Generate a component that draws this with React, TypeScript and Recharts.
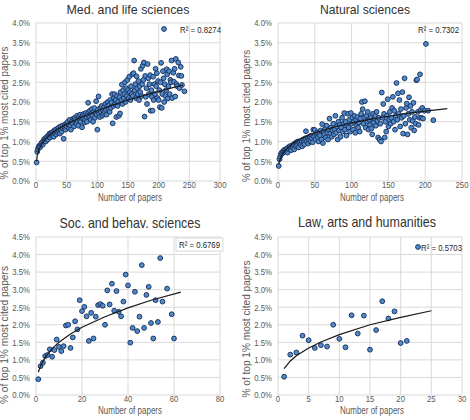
import { ScatterChart, Scatter, XAxis, YAxis, CartesianGrid } from 'recharts';

const FONT = "'Liberation Sans', Arial, sans-serif";
const TEXT = '#595959';
const GRID = '#d9d9d9';
const DOT_FILL = '#4f8acb';
const DOT_EDGE = '#1c3461';
const NARROW = 0.82;

// [number of papers, % of top 1% most cited papers]
const medPoints: [number, number][] = [
  [1, 0.47], [2, 0.74], [3, 0.8], [4, 0.85], [5, 0.88], [6, 0.9], [7, 0.86], [8, 0.93], [9, 0.95], [10, 0.98],
  [11, 0.92], [12, 1.0], [13, 1.05], [14, 1.02], [15, 1.08], [16, 1.0], [17, 1.1], [18, 1.12], [19, 1.05], [20, 1.15],
  [21, 1.12], [22, 1.2], [23, 1.1], [24, 1.18], [25, 1.22], [26, 1.15], [27, 1.2], [28, 1.25], [29, 1.12], [30, 1.28],
  [31, 1.2], [32, 1.3], [33, 1.18], [34, 1.25], [35, 1.32], [36, 1.22], [37, 1.35], [38, 1.28], [39, 1.2], [40, 1.38],
  [41, 1.3], [42, 1.25], [43, 1.4], [44, 1.33], [45, 1.07], [46, 1.36], [47, 1.42], [48, 1.3], [49, 1.45], [50, 1.38],
  [51, 1.45], [52, 1.5], [53, 1.35], [54, 1.42], [55, 1.55], [56, 1.4], [57, 1.3], [58, 1.48], [59, 1.52], [60, 1.45],
  [61, 1.58], [62, 1.38], [63, 1.6], [64, 1.5], [65, 1.55], [66, 1.45], [67, 1.65], [68, 1.52], [69, 1.4], [70, 1.62],
  [71, 1.55], [72, 1.68], [73, 1.5], [74, 1.6], [75, 1.36], [76, 1.65], [77, 1.58], [78, 1.7], [79, 1.48], [80, 1.55],
  [81, 1.72], [82, 1.62], [83, 1.5], [84, 1.68], [85, 1.98], [86, 1.75], [87, 1.6], [88, 1.78], [89, 1.55], [90, 1.7],
  [91, 1.82], [92, 1.65], [93, 1.5], [94, 1.75], [95, 1.85], [96, 1.6], [97, 1.72], [98, 2.02], [99, 1.68], [100, 1.3],
  [101, 1.8], [102, 2.14], [103, 1.7], [104, 1.62], [105, 1.85], [106, 1.75], [107, 1.9], [108, 1.65], [109, 1.8], [110, 1.7],
  [111, 1.88], [112, 1.75], [113, 1.95], [114, 1.8], [115, 1.68], [116, 1.9], [117, 2.0], [118, 1.82], [119, 1.92], [120, 1.75],
  [121, 2.05], [122, 1.85], [123, 1.98], [124, 2.2], [125, 1.46], [126, 1.9], [127, 2.1], [128, 2.2], [129, 1.95], [130, 2.05],
  [131, 1.62], [132, 2.15], [133, 1.9], [134, 2.0], [135, 1.65], [136, 2.12], [137, 1.71], [138, 2.25], [139, 2.05], [140, 2.44],
  [141, 1.95], [142, 2.3], [143, 2.1], [144, 2.2], [145, 2.5], [146, 2.0], [147, 2.35], [148, 2.15], [149, 2.56], [150, 2.3],
  [151, 2.1], [152, 2.64], [153, 2.25], [154, 2.05], [155, 2.4], [156, 2.2], [157, 2.7], [158, 2.15], [159, 2.73], [160, 3.05],
  [161, 2.3], [162, 2.45], [163, 2.1], [164, 2.65], [165, 2.35], [166, 2.2], [167, 2.53], [168, 2.05], [169, 2.4], [170, 2.25],
  [171, 2.84], [172, 2.15], [173, 2.45], [174, 2.92], [175, 2.56], [176, 3.0], [177, 1.63], [178, 2.66], [179, 2.13], [180, 2.35],
  [181, 1.95], [182, 2.96], [183, 2.6], [184, 2.2], [185, 2.45], [186, 2.68], [187, 1.78], [188, 2.3], [189, 2.13], [190, 1.78],
  [191, 2.64], [192, 2.05], [193, 2.45], [194, 2.2], [195, 2.84], [196, 2.4], [197, 2.73], [198, 2.1], [199, 2.53], [200, 2.05],
  [201, 2.3], [202, 1.87], [203, 2.5], [204, 2.99], [205, 1.85], [206, 2.2], [207, 2.78], [208, 2.6], [209, 2.0], [210, 2.45],
  [211, 2.15], [212, 2.3], [213, 2.83], [214, 2.7], [215, 2.09], [216, 2.4], [217, 2.78], [218, 2.2], [219, 2.56], [220, 2.5],
  [221, 3.05], [222, 2.1], [224, 2.74], [225, 2.51], [226, 2.84], [227, 2.14], [228, 3.09], [229, 2.45], [230, 2.4], [232, 3.0],
  [233, 2.67], [234, 2.35], [236, 2.89], [237, 2.66], [238, 2.43], [242, 2.27],
];

const natPoints: [number, number][] = [
  [1, 0.38], [2, 0.55], [3, 0.62], [4, 0.68], [5, 0.72], [6, 0.7], [7, 0.75], [8, 0.78], [9, 0.74], [10, 0.8],
  [11, 0.77], [12, 0.82], [13, 0.72], [14, 0.85], [15, 0.8], [16, 0.88], [17, 0.83], [18, 0.78], [19, 0.9], [20, 0.86],
  [21, 0.92], [22, 0.8], [23, 0.95], [24, 0.88], [25, 0.98], [26, 0.9], [27, 1.0], [28, 0.85], [29, 0.95], [30, 1.0],
  [31, 0.92], [32, 1.02], [33, 0.88], [34, 1.05], [35, 0.98], [36, 0.93], [37, 1.08], [38, 1.26], [39, 1.0], [40, 1.1],
  [41, 0.95], [42, 1.05], [43, 1.12], [44, 1.0], [45, 1.15], [46, 1.08], [47, 0.98], [48, 1.3], [49, 1.12], [50, 1.29],
  [51, 1.05], [52, 1.18], [53, 1.22], [54, 1.1], [55, 1.0], [56, 1.2], [57, 1.15], [58, 1.28], [59, 1.05], [60, 1.44],
  [61, 0.96], [62, 1.25], [63, 1.18], [64, 1.32], [65, 1.1], [66, 1.4], [67, 1.22], [68, 1.05], [69, 1.3], [70, 1.58],
  [71, 1.2], [72, 1.35], [73, 1.12], [74, 1.28], [75, 1.45], [76, 1.18], [77, 1.3], [78, 1.65], [79, 1.22], [80, 1.38],
  [81, 1.05], [82, 1.5], [83, 1.28], [84, 1.42], [85, 1.12], [86, 1.35], [87, 1.6], [88, 1.25], [89, 1.45], [90, 1.72],
  [91, 1.3], [92, 1.5], [93, 1.15], [94, 1.4], [95, 1.7], [96, 1.35], [97, 1.55], [98, 1.25], [99, 1.72], [100, 1.45],
  [101, 1.6], [102, 1.3], [103, 1.5], [104, 1.65], [105, 1.22], [106, 1.55], [107, 1.4], [108, 1.62], [109, 1.35], [110, 1.48],
  [111, 1.25], [112, 1.58], [113, 1.7], [114, 2.0], [115, 1.82], [116, 1.45], [117, 1.6], [118, 2.02], [119, 1.35], [120, 1.65],
  [121, 1.5], [122, 1.75], [123, 1.3], [124, 1.55], [125, 1.42], [126, 1.62], [127, 1.33], [128, 1.18], [129, 1.7], [130, 1.48],
  [131, 1.58], [132, 1.65], [133, 1.4], [134, 1.75], [135, 1.52], [136, 1.1], [137, 1.6], [138, 1.05], [139, 1.45], [140, 1.0],
  [141, 2.24], [142, 1.6], [143, 1.95], [144, 1.7], [145, 1.1], [146, 1.5], [147, 1.25], [148, 1.65], [149, 2.07], [150, 1.38],
  [151, 1.55], [152, 1.75], [153, 1.45], [154, 1.6], [155, 1.85], [156, 2.13], [157, 1.5], [158, 1.78], [159, 1.3], [160, 1.65],
  [161, 2.48], [162, 1.55], [163, 2.22], [164, 1.7], [165, 2.05], [166, 1.38], [167, 1.82], [168, 1.6], [169, 2.25], [170, 1.2],
  [171, 1.65], [172, 2.6], [173, 1.45], [174, 1.85], [175, 1.96], [176, 1.18], [177, 1.7], [178, 2.12], [179, 1.55], [180, 1.9],
  [181, 1.35], [182, 1.75], [183, 1.52], [184, 1.98], [185, 1.28], [186, 1.62], [187, 1.45], [188, 2.55], [189, 2.57], [190, 1.75],
  [191, 1.42], [192, 1.6], [193, 2.7], [194, 1.8], [195, 1.6], [196, 1.85], [197, 1.58], [199, 1.78], [201, 3.47], [204, 1.78],
  [211, 1.54],
];

const socPoints: [number, number][] = [
  [1, 0.45], [2, 0.82], [3, 0.92], [4, 1.11], [5, 1.14], [6, 1.3], [7, 1.09], [8, 1.28], [9, 1.58], [10, 1.37],
  [11, 1.25], [12, 1.39], [13, 1.98], [14, 2.0], [15, 1.34], [16, 1.64], [17, 2.1], [18, 1.87], [19, 2.7], [20, 2.39],
  [21, 2.51], [22, 2.24], [23, 1.54], [24, 2.34], [25, 1.61], [26, 2.23], [27, 2.56], [28, 2.59], [29, 2.54], [30, 2.0],
  [31, 2.98], [32, 2.58], [33, 3.17], [34, 2.4], [35, 2.96], [36, 2.37], [37, 2.24], [38, 2.66], [39, 3.43], [40, 3.12],
  [41, 1.49], [42, 1.91], [43, 2.94], [44, 1.82], [45, 2.23], [46, 3.7], [47, 1.91], [48, 2.85], [49, 3.08], [50, 2.05],
  [51, 1.61], [52, 2.7], [53, 2.08], [54, 3.9], [55, 2.66], [57, 3.03], [59, 2.3], [60, 1.61],
];

const lawPoints: [number, number][] = [
  [1, 0.52], [2, 1.15], [3, 1.21], [4, 1.69], [5, 1.56], [6, 1.34], [7, 1.42], [8, 1.38], [9, 2.0], [10, 1.6],
  [11, 1.36], [12, 2.27], [13, 1.75], [14, 2.26], [15, 1.29], [16, 1.85], [17, 2.67], [18, 2.18], [19, 2.38], [20, 1.48],
  [21, 1.54],
];

// trend lines
const medTrend: [number, number][] = [
  [1, 0.5], [2, 0.65], [5, 0.8], [10, 0.95], [20, 1.13], [30, 1.26], [50, 1.44], [75, 1.62], [100, 1.78],
  [125, 1.92], [150, 2.05], [175, 2.16], [200, 2.27], [220, 2.35], [240, 2.43],
];
const natTrend: [number, number][] = [
  [1, 0.42], [2, 0.5], [5, 0.65], [10, 0.78], [20, 0.95], [30, 1.06], [50, 1.22], [75, 1.36], [100, 1.47],
  [125, 1.56], [150, 1.64], [175, 1.71], [200, 1.77], [230, 1.83],
];
const socTrend: [number, number][] = [
  [1, 0.65], [2, 0.83], [4, 1.07], [7, 1.32], [10, 1.5], [15, 1.74], [20, 1.93], [30, 2.23], [40, 2.48], [50, 2.7], [63, 2.93],
];
const lawTrend: [number, number][] = [
  [1, 0.75], [2, 0.97], [3, 1.12], [5, 1.34], [7, 1.51], [10, 1.72], [15, 2.0], [20, 2.21], [25, 2.4],
];

const medXTicks = [0, 50, 100, 150, 200, 250, 300];
const natXTicks = [0, 50, 100, 150, 200, 250];
const socXTicks = [0, 20, 40, 60, 80];
const lawXTicks = [0, 5, 10, 15, 20, 25, 30];
const yTicks40 = [0, 0.5, 1, 1.5, 2, 2.5, 3, 3.5, 4];
const yTicks45 = [0, 0.5, 1, 1.5, 2, 2.5, 3, 3.5, 4, 4.5];

const toRows = (pts: [number, number][]) => pts.map(([x, y]) => ({ x, y }));
const pct = (v: number) => `${v.toFixed(1)}%`;

const Dot = (p: any) => (
  <circle cx={p.cx} cy={p.cy} r={2.4} fill={DOT_FILL} stroke={DOT_EDGE} strokeWidth={1} />
);
const NoDot = () => <g />;

// Narrow text, like the condensed face of the original
function NText({ x, y, anchor = 'start', size, fill = TEXT, children }: any) {
  return (
    <text
      transform={`translate(${x}, ${y}) scale(${NARROW}, 1)`}
      textAnchor={anchor}
      fontSize={size}
      fontFamily={FONT}
      fill={fill}
    >
      {children}
    </text>
  );
}

const XTick = (props: any) => (
  <NText x={props.x} y={props.y + 7} anchor="middle" size={9.5}>
    {props.payload.value}
  </NText>
);
const YTick = (props: any) => (
  <NText x={30} y={props.y + 3.3} anchor="end" size={9.5}>
    {pct(props.payload.value)}
  </NText>
);

interface PanelProps {
  left: number;
  top: number;
  width: number;
  plotTop: number;
  axisH: number;
  rightM: number;
  title: string;
  titleSize: number;
  titleX: number;
  titleY: number;
  titleW: number;
  xLabelY: number;
  yLabelMid: number;
  yLabelLen: number;
  points: [number, number][];
  trend: [number, number][];
  xTicks: number[];
  yTicks: number[];
  r2: string;
  legend: { dot?: [number, number]; textX: number; textY: number; box?: boolean };
}

function Panel(p: PanelProps) {
  const H = 210;
  const xMax = p.xTicks[p.xTicks.length - 1];
  const yMax = p.yTicks[p.yTicks.length - 1];
  return (
    <div style={{ position: 'absolute', left: p.left, top: p.top, width: p.width, height: H }}>
      <ScatterChart
        width={p.width}
        height={H}
        margin={{ top: p.plotTop, right: p.rightM, bottom: 0, left: 0 }}
      >
        <CartesianGrid stroke={GRID} strokeWidth={1} />
        <XAxis
          type="number"
          dataKey="x"
          domain={[0, xMax]}
          ticks={p.xTicks}
          interval={0}
          height={p.axisH}
          axisLine={false}
          tickLine={false}
          tickSize={0}
          tickMargin={0}
          tick={XTick}
        />
        <YAxis
          type="number"
          dataKey="y"
          domain={[0, yMax]}
          ticks={p.yTicks}
          interval={0}
          width={36}
          axisLine={false}
          tickLine={false}
          tick={YTick}
        />
        <Scatter data={toRows(p.points)} shape={Dot} isAnimationActive={false} />
        <Scatter
          data={toRows(p.trend)}
          shape={NoDot}
          line={{ stroke: '#1a1a1a', strokeWidth: 1.2 }}
          lineType="joint"
          isAnimationActive={false}
        />
      </ScatterChart>
      <svg
        width={p.width}
        height={H}
        style={{ position: 'absolute', left: 0, top: 0, pointerEvents: 'none' }}
        fontFamily={FONT}
      >
        <text
          x={p.titleX - p.titleW / 2}
          y={p.titleY}
          fontSize={p.titleSize}
          fill="#333"
          textLength={p.titleW}
          lengthAdjust="spacingAndGlyphs"
        >
          {p.title}
        </text>
        <text
          x={98}
          y={p.xLabelY}
          fontSize={10}
          fill={TEXT}
          textLength={64}
          lengthAdjust="spacingAndGlyphs"
        >
          Number of papers
        </text>
        <text
          transform={`translate(8, ${p.yLabelMid + p.yLabelLen / 2}) rotate(-90)`}
          fontSize={10}
          fill={TEXT}
          textLength={p.yLabelLen}
          lengthAdjust="spacingAndGlyphs"
        >
          % of top 1% most cited papers
        </text>
        {p.legend.box && (
          <rect
            x={p.legend.textX - 3}
            y={p.legend.textY - 10}
            width={47}
            height={13}
            fill="#fff"
            stroke={GRID}
          />
        )}
        {p.legend.dot && (
          <circle
            cx={p.legend.dot[0]}
            cy={p.legend.dot[1]}
            r={2.4}
            fill={DOT_FILL}
            stroke={DOT_EDGE}
            strokeWidth={1}
          />
        )}
        <text
          x={p.legend.textX}
          y={p.legend.textY}
          fontSize={9}
          fill="#262626"
          textLength={41}
          lengthAdjust="spacingAndGlyphs"
        >
          {p.r2}
        </text>
      </svg>
    </div>
  );
}

export default function App() {
  return (
    <div
      style={{
        position: 'absolute',
        left: 0,
        top: 0,
        width: 470,
        height: 420,
        background: '#fff',
        overflow: 'hidden',
      }}
    >
      <Panel
        left={0}
        top={0}
        width={235}
        plotTop={23}
        axisH={29}
        rightM={15}
        title="Med. and life sciences"
        titleSize={13.5}
        titleX={128}
        titleY={14}
        titleW={123}
        xLabelY={201}
        yLabelMid={113}
        yLabelLen={133}
        points={medPoints}
        trend={medTrend}
        xTicks={medXTicks}
        yTicks={yTicks40}
        r2="R² = 0.8274"
        legend={{ dot: [164, 29], textX: 180, textY: 33 }}
      />
      <Panel
        left={242}
        top={0}
        width={228}
        plotTop={23}
        axisH={29}
        rightM={8}
        title="Natural sciences"
        titleSize={13.5}
        titleX={123}
        titleY={14}
        titleW={90}
        xLabelY={201}
        yLabelMid={116}
        yLabelLen={132}
        points={natPoints}
        trend={natTrend}
        xTicks={natXTicks}
        yTicks={yTicks40}
        r2="R² = 0.7302"
        legend={{ textX: 176, textY: 33 }}
      />
      <Panel
        left={0}
        top={210}
        width={235}
        plotTop={27}
        axisH={25}
        rightM={15}
        title="Soc. and behav. sciences"
        titleSize={15}
        titleX={130}
        titleY={18}
        titleW={141}
        xLabelY={204}
        yLabelMid={125}
        yLabelLen={138}
        points={socPoints}
        trend={socTrend}
        xTicks={socXTicks}
        yTicks={yTicks45}
        r2="R² = 0.6769"
        legend={{ textX: 179, textY: 38, box: true }}
      />
      <Panel
        left={242}
        top={210}
        width={228}
        plotTop={27}
        axisH={25}
        rightM={8}
        title="Law, arts and humanities"
        titleSize={15}
        titleX={125}
        titleY={17}
        titleW={138}
        xLabelY={204}
        yLabelMid={119}
        yLabelLen={137}
        points={lawPoints}
        trend={lawTrend}
        xTicks={lawXTicks}
        yTicks={yTicks45}
        r2="R² = 0.5703"
        legend={{ dot: [176, 37], textX: 179, textY: 41 }}
      />
    </div>
  );
}
